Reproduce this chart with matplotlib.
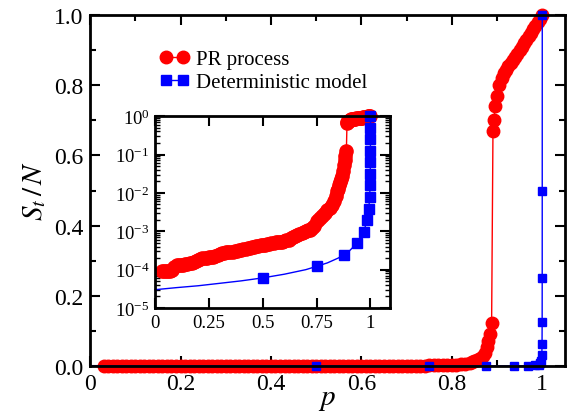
import matplotlib
matplotlib.use('Agg')
import matplotlib.pyplot as plt
from matplotlib.lines import Line2D
from matplotlib.ticker import MultipleLocator, FixedLocator, FixedFormatter, LogLocator, NullFormatter
import numpy as np

plt.rcParams['font.family'] = ['Liberation Serif', 'DejaVu Serif']
plt.rcParams['mathtext.fontset'] = 'stix'

# PR process
pr_p = [0.03, 0.04, 0.05, 0.06, 0.07, 0.08, 0.09, 0.10, 0.11, 0.12, 0.13, 0.14, 0.15, 0.16,
        0.17, 0.18, 0.19, 0.20, 0.21, 0.22, 0.23, 0.24, 0.25, 0.26, 0.27, 0.28, 0.29, 0.30,
        0.31, 0.32, 0.33, 0.34, 0.35, 0.36, 0.37, 0.38, 0.39, 0.40, 0.41, 0.42, 0.43, 0.44,
        0.45, 0.46, 0.47, 0.48, 0.49, 0.50, 0.51, 0.52, 0.53, 0.54, 0.55, 0.56, 0.57, 0.58,
        0.59, 0.60, 0.61, 0.62, 0.63, 0.64, 0.65, 0.66, 0.67, 0.68, 0.69, 0.70, 0.71, 0.72,
        0.73, 0.74, 0.75, 0.76, 0.77, 0.78, 0.79, 0.80, 0.81, 0.82, 0.83, 0.84, 0.845, 0.85,
        0.855, 0.86, 0.865, 0.87, 0.874, 0.878, 0.881, 0.884, 0.888,
        0.891, 0.893, 0.896, 0.90, 0.905, 0.91, 0.915, 0.92, 0.925, 0.93, 0.935, 0.94, 0.945,
        0.95, 0.955, 0.96, 0.965, 0.97, 0.975, 0.98, 0.985, 0.99, 0.995, 1.0]
pr_s = [9e-5, 9e-5, 9e-5, 9e-5, 9.2e-5, 9.5e-5, 1.15e-4, 1.3e-4, 1.35e-4, 1.35e-4, 1.35e-4, 1.4e-4, 1.4e-4, 1.45e-4,
        1.5e-4, 1.6e-4, 1.7e-4, 1.8e-4, 1.9e-4, 2.0e-4, 2.0e-4, 2.05e-4, 2.1e-4, 2.15e-4, 2.2e-4, 2.3e-4, 2.45e-4, 2.6e-4,
        2.7e-4, 2.75e-4, 2.8e-4, 2.85e-4, 2.9e-4, 2.95e-4, 3.0e-4, 3.1e-4, 3.2e-4, 3.3e-4, 3.4e-4, 3.5e-4, 3.6e-4, 3.7e-4,
        3.9e-4, 4.0e-4, 4.1e-4, 4.2e-4, 4.3e-4, 4.4e-4, 4.5e-4, 4.6e-4, 4.7e-4, 4.9e-4, 5.0e-4, 5.1e-4, 5.2e-4, 5.3e-4,
        5.4e-4, 5.6e-4, 5.8e-4, 6.1e-4, 6.5e-4, 7.0e-4, 7.5e-4, 8.0e-4, 8.5e-4, 9.0e-4, 9.5e-4, 1.0e-3, 1.05e-3, 1.1e-3,
        1.2e-3, 1.4e-3, 1.8e-3, 2.1e-3, 2.3e-3, 2.6e-3, 3.0e-3, 3.5e-3, 4.0e-3, 4.8e-3, 6.0e-3, 8.5e-3, 1.1e-2, 1.3e-2,
        1.6e-2, 1.9e-2, 2.3e-2, 2.8e-2, 3.8e-2, 5.3e-2, 7.0e-2, 9.0e-2, 0.122,
        0.67, 0.70, 0.74, 0.77, 0.80, 0.82, 0.835, 0.845, 0.855, 0.865, 0.873, 0.88, 0.89,
        0.90, 0.91, 0.92, 0.93, 0.94, 0.95, 0.96, 0.97, 0.98, 0.99, 1.0]

# deterministic model: markers
det_p = [0.5, 0.75, 0.875, 0.9375, 0.96875, 0.984375, 0.9921875, 0.99609375, 0.998046875,
         0.9990234375, 0.99951171875, 0.999755859375, 0.9998779296875, 0.99993896484375, 1.0]
det_s = [6.1e-5, 1.22e-4, 2.44e-4, 4.88e-4, 9.77e-4, 1.95e-3, 3.9e-3, 7.8e-3, 1.56e-2,
         3.1e-2, 6.25e-2, 0.125, 0.25, 0.5, 1.0]
# deterministic model: connecting curve
det_line_p = [0.0, 0.1, 0.2, 0.3, 0.4, 0.5, 0.6, 0.7, 0.75, 0.8, 0.85, 0.875, 0.9, 0.9375,
              0.96875, 0.984375, 0.9921875, 0.99609375, 0.998046875, 0.9990234375,
              0.99951171875, 0.999755859375, 0.9998779296875, 0.99993896484375, 1.0]
det_line_s = [3.0e-5, 3.4e-5, 3.8e-5, 4.4e-5, 5.1e-5, 6.1e-5, 7.6e-5, 1.0e-4, 1.22e-4, 1.5e-4, 2.0e-4,
              2.44e-4, 3.0e-4, 4.88e-4, 9.77e-4, 1.95e-3, 3.9e-3, 7.8e-3, 1.56e-2, 3.1e-2,
              6.25e-2, 0.125, 0.25, 0.5, 1.0]

red = '#ff0000'
blue = '#0000ff'

fig = plt.figure(figsize=(5.7, 4.14), dpi=100)
ax = fig.add_axes([0.158, 0.1135, 0.833, 0.8475])

ax.plot(pr_p, pr_s, '-', color=red, lw=1, clip_on=False, zorder=2)
ax.plot(pr_p, pr_s, 'o', color=red, ms=9, mec=red, clip_on=False, zorder=2)
ax.plot(det_line_p, det_line_s, '-', color=blue, lw=1, clip_on=False, zorder=2.1)
ax.plot(det_p, det_s, 's', color=blue, ms=6, mec=blue, clip_on=False, zorder=2.1)

ax.set_xlim(0, 1.05)
ax.set_ylim(0, 1.0)
ax.xaxis.set_major_locator(FixedLocator([0, 0.2, 0.4, 0.6, 0.8, 1.0]))
ax.xaxis.set_major_formatter(FixedFormatter(['0', '0.2', '0.4', '0.6', '0.8', '1']))
ax.xaxis.set_minor_locator(MultipleLocator(0.1))
ax.yaxis.set_major_locator(MultipleLocator(0.2))
ax.yaxis.set_minor_locator(MultipleLocator(0.1))
ax.yaxis.set_major_formatter(plt.FuncFormatter(lambda v, pos: '%.1f' % v))
ax.tick_params(which='both', direction='in', top=True, right=True, labelsize=17, width=1.5, pad=5)
ax.tick_params(which='major', length=7)
ax.tick_params(which='minor', length=4)
for s in ax.spines.values():
    s.set_linewidth(2)

ax.set_xlabel('$p$', fontsize=21, labelpad=-6)
ax.set_ylabel('$S_t\\,/\\,N$', fontsize=21, labelpad=4)

handles = [Line2D([], [], color=red, lw=1, marker='o', ms=9),
           Line2D([], [], color=blue, lw=1, marker='s', ms=6.5)]
ax.legend(handles, ['PR process', 'Deterministic model'], loc='upper left',
          bbox_to_anchor=(0.13, 0.925), frameon=False, fontsize=15, numpoints=2,
          handlelength=1.4, handletextpad=0.3, labelspacing=0.15, borderaxespad=0)

# inset
ins = fig.add_axes([0.272, 0.2536, 0.412, 0.4634])
ins.plot(pr_p, pr_s, '-', color=red, lw=1, clip_on=False)
ins.plot(pr_p, pr_s, 'o', color=red, ms=9.5, mec=red, clip_on=False)
ins.plot(det_line_p, det_line_s, '-', color=blue, lw=1, clip_on=False)
ins.plot(det_p, det_s, 's', color=blue, ms=6.5, mec=blue, clip_on=False)
ins.set_yscale('log')
ins.set_xlim(0, 1.09)
ins.set_ylim(1e-5, 1)
ins.xaxis.set_major_locator(FixedLocator([0, 0.25, 0.5, 0.75, 1.0]))
ins.xaxis.set_major_formatter(FixedFormatter(['0', '0.25', '0.5', '0.75', '1']))
ins.yaxis.set_major_locator(LogLocator(base=10, numticks=10))
ins.yaxis.set_minor_locator(LogLocator(base=10, subs=np.arange(2, 10), numticks=20))
ins.yaxis.set_minor_formatter(NullFormatter())
ins.tick_params(which='both', direction='in', top=True, right=True, labelsize=13.5, width=1.5, pad=4)
ins.tick_params(which='major', length=7)
ins.tick_params(which='minor', length=3.5, width=1)
for s in ins.spines.values():
    s.set_linewidth(2)

fig.savefig('out.png', dpi=100)
